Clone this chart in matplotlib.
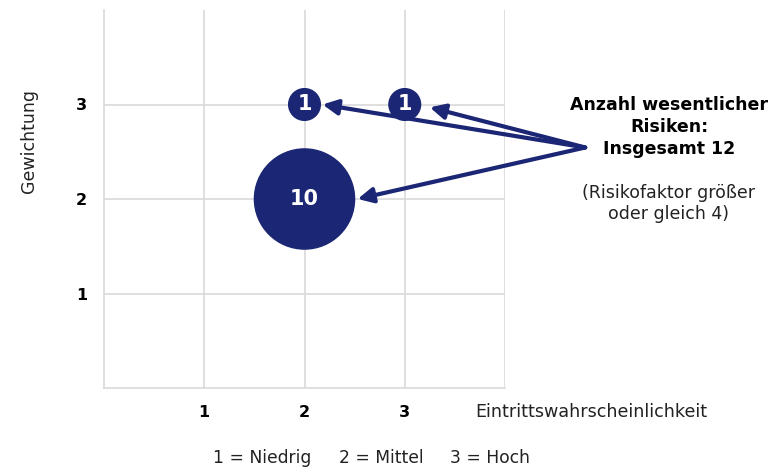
import matplotlib.pyplot as plt

# Risk bubbles: likelihood (x), weight (y), number of risks
likelihood = [2, 3, 2]
weight = [3, 3, 2]
counts = [1, 1, 10]
tick_values = [1, 2, 3]
scale_labels = ["1 = Niedrig", "2 = Mittel", "3 = Hoch"]

navy = "#1b2674"
grid_gray = "#d9d9d9"

fig = plt.figure(figsize=(7.83, 4.67), dpi=100)
ax = fig.add_axes([104 / 783, 1 - 388 / 467, 401 / 783, 378 / 467])
ax.set_xlim(0, 4)
ax.set_ylim(0, 4)

# grid
for v in [1, 2, 3, 4]:
    ax.axvline(v, color=grid_gray, lw=1.2, zorder=0)
for v in [1, 2, 3]:
    ax.axhline(v, color=grid_gray, lw=1.2, zorder=0)
for side in ["top", "right"]:
    ax.spines[side].set_visible(False)
for side in ["left", "bottom"]:
    ax.spines[side].set_color(grid_gray)
    ax.spines[side].set_linewidth(1.2)

ax.set_xticks(tick_values)
ax.set_yticks(tick_values)
ax.set_xticklabels([str(t) for t in tick_values], fontsize=11.5, fontweight="bold")
ax.set_yticklabels([str(t) for t in tick_values], fontsize=11.5, fontweight="bold")
ax.tick_params(length=0, pad=12)

# bubbles sized by count
sizes = [c * 520 for c in counts]
ax.scatter(likelihood, weight, s=sizes, color=navy, zorder=3, clip_on=False)
for x, y, c in zip(likelihood, weight, counts):
    ax.text(x, y, str(c), color="white", fontsize=15, fontweight="bold",
            ha="center", va="center", zorder=4)

# arrows from the summary to each bubble
origin = (4.8, 2.545)
tips = [(2.18, 3.0), (3.25, 2.97), (2.53, 2.0)]
for tip in tips:
    ax.annotate("", xy=tip, xytext=origin, annotation_clip=False,
                arrowprops=dict(arrowstyle="-|>,head_length=0.9,head_width=0.45",
                                color=navy, lw=3, shrinkA=0, shrinkB=0))

fig.text(669 / 783, 1 - 127 / 467, "Anzahl wesentlicher\nRisiken:\nInsgesamt 12",
         ha="center", va="center", fontsize=12.5, fontweight="bold",
         linespacing=1.25, color="black")
fig.text(669 / 783, 1 - 203.5 / 467, "(Risikofaktor größer\noder gleich 4)",
         ha="center", va="center", fontsize=12.5, linespacing=1.25, color="#222222")

fig.text(475 / 783, 1 - 412 / 467, "Eintrittswahrscheinlichkeit",
         ha="left", va="center", fontsize=12.6, color="#222222")
fig.text(29 / 783, 1 - 141 / 467, "Gewichtung", rotation=90,
         ha="center", va="center", fontsize=12.5, color="#222222")
for lbl, xpx in zip(scale_labels, [213, 339, 450]):
    fig.text(xpx / 783, 1 - 458 / 467, lbl,
             ha="left", va="center", fontsize=12.3, color="#222222")

fig.savefig("out.png", dpi=100)
